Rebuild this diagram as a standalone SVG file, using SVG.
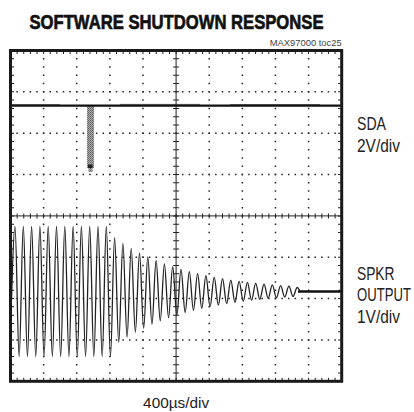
<svg xmlns="http://www.w3.org/2000/svg" width="414" height="412" viewBox="0 0 414 412">
<style>
.lbl{font-family:"Liberation Sans",Arial,sans-serif;fill:#222;font-size:17.5px}
.ttl{font-family:"Liberation Sans",Arial,sans-serif;font-weight:bold;fill:#111;stroke:#111;stroke-width:0.7;font-size:21px}
.sm{font-family:"Liberation Sans",Arial,sans-serif;fill:#444;font-size:8.5px}
.gh{stroke:#222;stroke-width:1.5;stroke-dasharray:1.5 5.124;stroke-dashoffset:0.75;fill:none}
.gv{stroke:#222;stroke-width:1.5;stroke-dasharray:1.5 6.77;stroke-dashoffset:0.75;fill:none}
.th{stroke:#222;stroke-width:1;stroke-dasharray:1 5.624;stroke-dashoffset:0.5;fill:none}
.tv{stroke:#222;stroke-width:1;stroke-dasharray:1 7.27;stroke-dashoffset:0.5;fill:none}
</style>
<defs>
<pattern id="stip" width="2" height="2" patternUnits="userSpaceOnUse">
<rect width="2" height="2" fill="#b0b0b0"/>
<rect width="1" height="1" fill="#555"/>
<rect x="1" y="1" width="1" height="1" fill="#777"/>
</pattern>
</defs>
<rect width="414" height="412" fill="#fff"/>
<text class="ttl" x="29.5" y="28.5" textLength="294" lengthAdjust="spacingAndGlyphs">SOFTWARE SHUTDOWN RESPONSE</text>
<text class="sm" x="341.7" y="45.7" text-anchor="end" textLength="72" lengthAdjust="spacingAndGlyphs">MAX97000 toc25</text>
<g id="grid">
<path class="gh" d="M10.5 91.85H341.7M10.5 133.2H341.7M10.5 174.55H341.7M10.5 257.25H341.7M10.5 298.6H341.7M10.5 339.95H341.7"/>
<path class="gv" d="M43.62 50.5V381.3M76.74 50.5V381.3M109.86 50.5V381.3M142.98 50.5V381.3M209.22 50.5V381.3M242.34 50.5V381.3M275.46 50.5V381.3M308.58 50.5V381.3"/>
<path d="M10.5 215.9H341.7M176.1 50.5V381.3" stroke="#222" stroke-width="1" fill="none"/>
<line class="th" x1="10.5" y1="215.9" x2="341.7" y2="215.9" style="stroke-width:5"/>
<line class="tv" x1="176.1" y1="50.5" x2="176.1" y2="381.3" style="stroke-width:6"/>
<line class="th" x1="10.5" y1="52.8" x2="341.7" y2="52.8" style="stroke-width:2.6"/>
<line class="th" x1="10.5" y1="379" x2="341.7" y2="379" style="stroke-width:2.6"/>
<line class="tv" x1="12.8" y1="50.5" x2="12.8" y2="381.3" style="stroke-width:2.6"/>
<line class="tv" x1="339.4" y1="50.5" x2="339.4" y2="381.3" style="stroke-width:2.6"/>
</g>
<g id="sda-trace">
<rect x="87" y="106" width="7" height="62" fill="url(#stip)"/>
<rect x="88.5" y="168" width="4" height="4" fill="url(#stip)"/>
<rect x="88" y="164.5" width="4.5" height="3.5" fill="#222"/>
<path d="M10.5 105.6H341.7" stroke="#111" stroke-width="2.4" fill="none"/>
<path d="M10.5 104.6H60M120 104.4H200M230 104.5H320" stroke="#333" stroke-width="0.8" fill="none"/>
</g>
<g id="spkr-trace">
<path fill="none" stroke="#222" stroke-width="1.3" d="M11.5,300 C12.5,270 13.5,226.5 15,226.5 S17.66,356.5 19.15,356.5 S21.81,226.5 23.3,226.5 S25.96,356.5 27.45,356.5 S30.11,226.5 31.6,226.5 S34.26,356.5 35.75,356.5 S38.41,226.5 39.9,226.5 S42.56,356.5 44.05,356.5 S46.71,226.5 48.2,226.5 S50.86,356.5 52.35,356.5 S55.01,226.5 56.5,226.5 S59.16,356.5 60.65,356.5 S63.31,226.5 64.8,226.5 S67.46,356.5 68.95,356.5 S71.61,226.5 73.1,226.5 S75.76,356.5 77.25,356.5 S79.91,226.5 81.4,226.5 S84.06,356.5 85.55,356.5 S88.21,226.5 89.7,226.5 S92.36,356.5 93.85,356.5 S96.51,226.5 98,226.5 S100.66,356.5 102.15,356.5 S104.81,226.5 106.3,226.5 S108.96,356.5 110.45,356.5 S113.11,237.7 114.6,237.7 S117.26,342.4 118.75,342.4 S121.41,243.3 122.9,243.3 S125.56,337.1 127.05,337.1 S129.71,248.3 131.2,248.3 S133.86,332.3 135.35,332.3 S138.01,252.9 139.5,252.9 S142.16,328.1 143.65,328.1 S146.31,256.9 147.8,256.9 S150.46,324.2 151.95,324.2 S154.61,260.5 156.1,260.5 S158.76,320.8 160.25,320.8 S162.91,263.8 164.4,263.8 S167.06,317.7 168.55,317.7 S171.21,266.7 172.7,266.7 S175.36,315 176.85,315 S179.51,269.3 181,269.3 S183.66,312.5 185.15,312.5 S187.81,271.6 189.3,271.6 S191.96,310.3 193.45,310.3 S196.11,273.7 197.6,273.7 S200.26,308.3 201.75,308.3 S204.41,275.6 205.9,275.6 S208.56,306.6 210.05,306.6 S212.71,277.2 214.2,277.2 S216.86,305 218.35,305 S221.01,278.7 222.5,278.7 S225.16,303.6 226.65,303.6 S229.31,280.1 230.8,280.1 S233.46,302.3 234.95,302.3 S237.61,281.3 239.1,281.3 S241.76,301.2 243.25,301.2 S245.91,282.3 247.4,282.3 S250.06,300.2 251.55,300.2 S254.21,283.3 255.7,283.3 S258.36,299.3 259.85,299.3 S262.51,284.1 264,284.1 S266.66,298.4 268.15,298.4 S270.81,284.9 272.3,284.9 S274.96,297.7 276.45,297.7 S279.11,285.6 280.6,285.6 S283.26,297.1 284.75,297.1 S287.41,286.2 288.9,286.2 S291.56,296.5 293.05,296.5 S295.71,287.5 297.2,287.5 S299.5,291.5 300.5,291.5"/>
<path d="M298 291.5H341.7" stroke="#111" stroke-width="2.6" fill="none"/>
</g>
<rect id="frame" x="10.5" y="50.5" width="331.2" height="330.8" fill="none" stroke="#1a1a1a" stroke-width="3"/>
<g id="labels">
<text class="lbl" x="357" y="130" textLength="29" lengthAdjust="spacingAndGlyphs">SDA</text>
<text class="lbl" x="357" y="152" textLength="43" lengthAdjust="spacingAndGlyphs">2V/div</text>
<text class="lbl" x="357" y="279.5" textLength="37.5" lengthAdjust="spacingAndGlyphs">SPKR</text>
<text class="lbl" transform="translate(357 301) scale(0.75 1)" x="0" y="0">OUTPUT</text>
<text class="lbl" x="357" y="322.5" textLength="43" lengthAdjust="spacingAndGlyphs">1V/div</text>
<text class="lbl" x="176.1" y="408" text-anchor="middle" style="font-size:14px" textLength="66" lengthAdjust="spacingAndGlyphs">400µs/div</text>
</g>
</svg>
